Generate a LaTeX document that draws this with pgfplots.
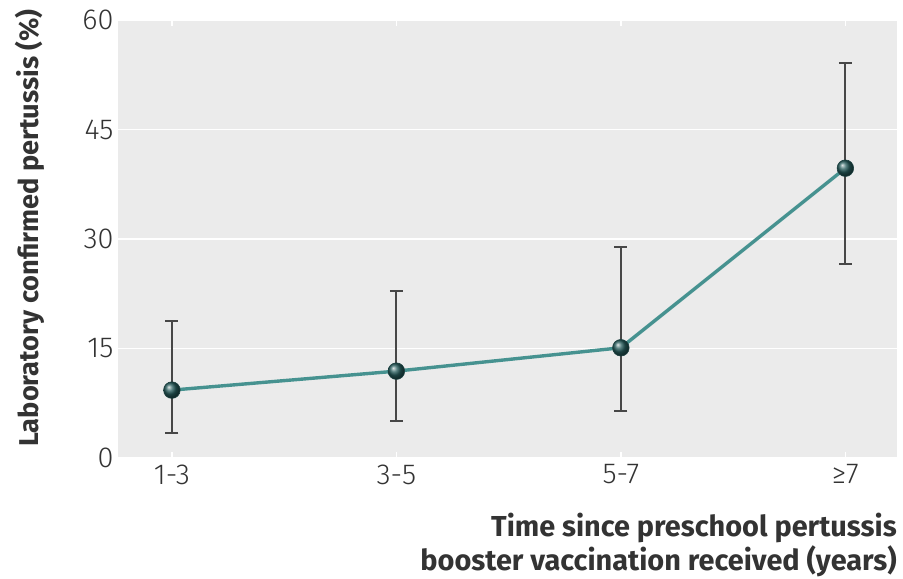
\documentclass[border=0pt]{standalone}
\usepackage{fontspec}
\setmainfont{Fira Sans}
\newfontfamily\firalight{Fira Sans Light}
\usepackage{pgfplots}
\pgfplotsset{compat=1.18}
\definecolor{bg}{HTML}{EBEBEB}
\definecolor{tealline}{RGB}{70,146,144}
\definecolor{ballc}{RGB}{38,92,92}
\definecolor{txt}{HTML}{333333}
\pgfplotstableread{
x y ep em
0 9.3 9.5 5.9
1 11.9 11.0 6.8
2 15.1 13.8 8.7
3 39.7 14.4 13.1
}\datatab
\begin{document}
\begin{tikzpicture}
\path[use as bounding box] (-118bp,-121bp) rectangle (785bp,458bp);
\begin{axis}[
  scale only axis, width=779bp, height=438bp,
  at={(0,0)}, anchor=south west,
  xmin=-0.24, xmax=3.23, ymin=0, ymax=60,
  axis background/.style={fill=bg},
  axis line style={draw=none},
  ytick={0,15,30,45,60},
  xtick={0,1,2,3},
  xticklabels={1-3,3-5,5-7,≥7},
  ymajorgrids, grid style={white, line width=1.6bp},
  tick align=inside,
  xtick style={white, line width=1.6bp},
  ytick style={draw=none},
  major tick length=6bp,
  /pgf/number format/assume math mode=true,
  ticklabel style={font=\firalight\fontsize{29}{32}\selectfont, text=txt},
  yticklabel style={xshift=-1bp},
  xticklabel style={yshift=-3bp},
  ylabel={Laboratory confirmed pertussis (\%)},
  ylabel style={at={(axis description cs:-0.113,0.525)}, anchor=center, font=\bfseries\fontsize{27.3}{30}\selectfont, text=txt},
  xlabel={Time since preschool pertussis\\booster vaccination received (years)},
  xlabel style={at={(axis description cs:1,0)}, anchor=north east, yshift=-55bp, inner sep=0pt, align=right, font=\bfseries\fontsize{29}{33.5}\selectfont, text=txt},
  clip=false,
]
\addplot[draw=none, mark=none, forget plot,
  error bars/.cd, y dir=both, y explicit,
  error bar style={line width=2bp, draw=black!72},
  error mark options={rotate=90, mark size=6.5bp, line width=2bp, draw=black!72}]
  table[x=x, y=y, y error plus=ep, y error minus=em]{\datatab};
\addplot[tealline, line width=3.4bp, mark=none] table[x=x, y=y]{\datatab};
\addplot[only marks, draw=ballc!70!black, line width=0.6bp, mark=ball, mark size=8.3bp, ball color=ballc]
  table[x=x, y=y]{\datatab};
\end{axis}
\end{tikzpicture}
\end{document}
